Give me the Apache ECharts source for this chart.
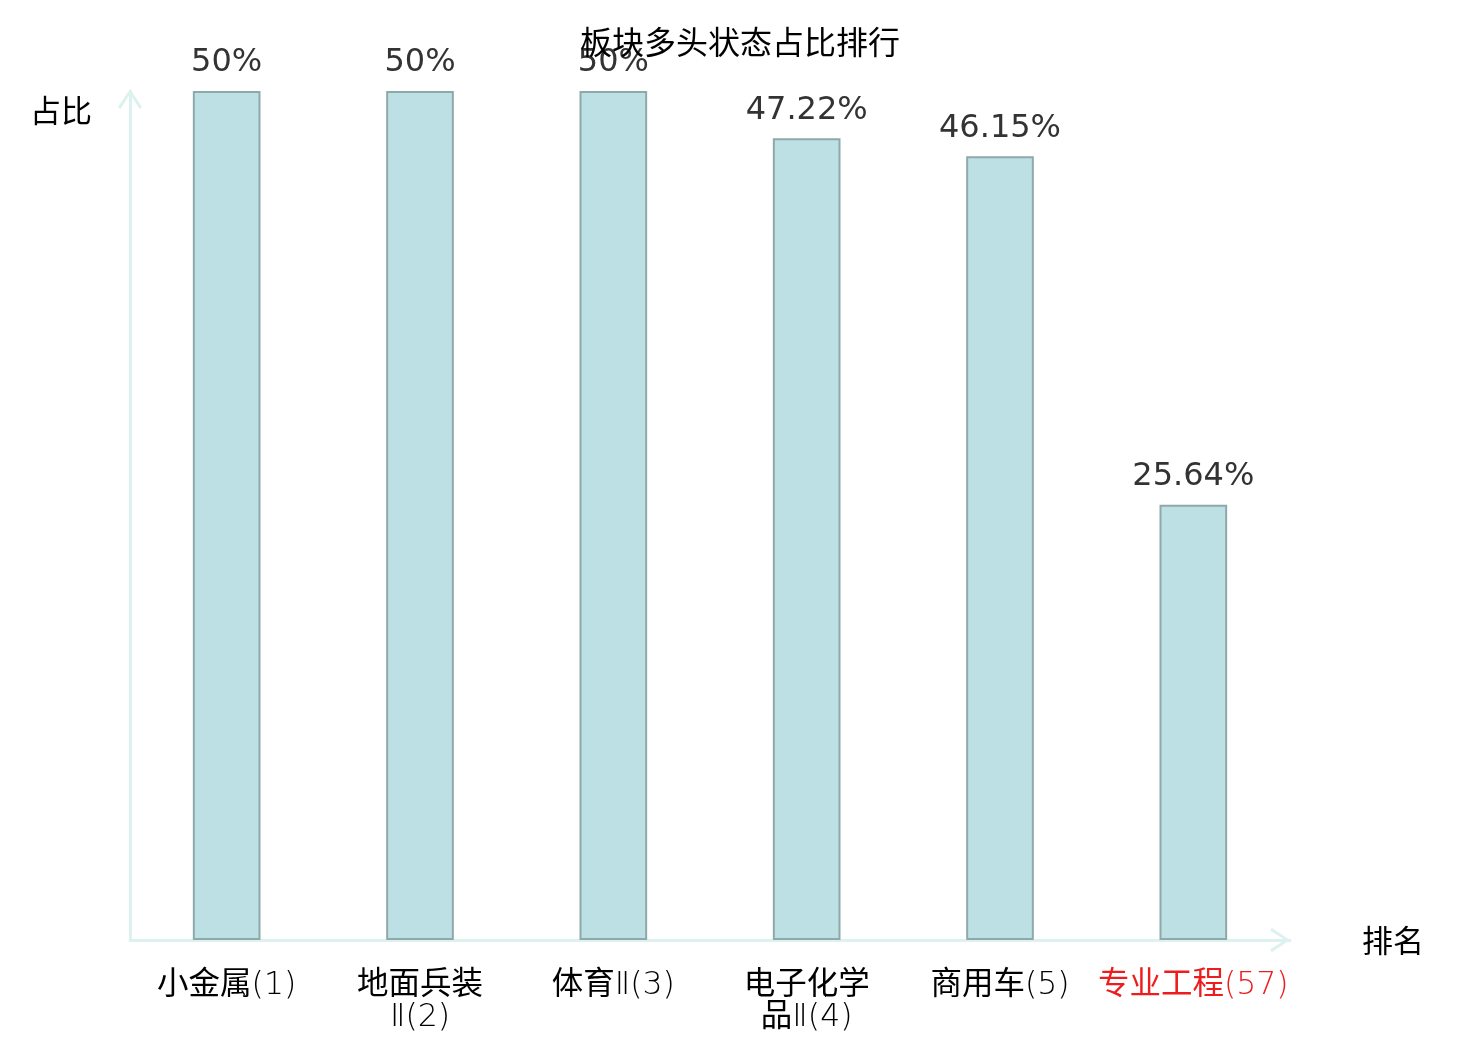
<!DOCTYPE html>
<html>
<head>
<meta charset="utf-8">
<script src="https://cdn.jsdelivr.net/npm/echarts@6/dist/echarts.min.js"></script>
<style>html,body{margin:0;padding:0;background:#fff;}#main{width:1480px;height:1040px;}</style>
</head>
<body>
<div id="main"></div>
<script>
const titleText = '板块多头状态占比排行';
const categories = ['小金属(1)', '地面兵装\nⅡ(2)', '体育Ⅱ(3)', '电子化学\n品Ⅱ(4)', '商用车(5)', '专业工程(57)'];
const values = [50, 50, 50, 47.22, 46.15, 25.64];
const highlightIndex = 5;
const yName = '占比';
const xName = '排名';

const chart = echarts.init(document.getElementById('main'));
const arrowPath = 'path://M12,0L24,18L21.5,20L12,5L2.5,20L0,18Z';
const cjk = '"Noto Sans CJK SC"';
chart.setOption({
  animation: false,
  title: {
    text: titleText,
    left: 'center',
    top: 21,
    textStyle: { fontSize: 32, fontWeight: 'normal', color: '#000', fontFamily: cjk }
  },
  grid: { left: 130, right: 190, top: 91, bottom: 100, containLabel: false },
  xAxis: {
    type: 'category',
    data: categories,
    name: xName,
    nameLocation: 'end',
    nameGap: 72,
    nameTextStyle: { fontSize: 31, color: '#000', fontFamily: cjk },
    axisLine: {
      show: true,
      symbol: ['none', arrowPath],
      symbolSize: [24, 20],
      symbolOffset: [0, -10],
      lineStyle: { color: '#ddf1ee', width: 3 }
    },
    axisTick: { show: false },
    axisLabel: {
      interval: 0,
      margin: 30,
      fontSize: 31.5,
      lineHeight: 32,
      fontFamily: '"DejaVu Sans Light", "Noto Sans CJK SC"',
      color: function (v, i) { return i === highlightIndex ? '#ee1c1c' : '#000'; }
    }
  },
  yAxis: {
    type: 'value',
    min: 0,
    max: 50,
    name: yName,
    nameLocation: 'end',
    nameGap: -19,
    nameTextStyle: { fontSize: 31, color: '#000', fontFamily: cjk, align: 'right', verticalAlign: 'middle', padding: [0, 38, 0, 0] },
    axisLine: {
      show: true,
      symbol: ['none', arrowPath],
      symbolSize: [24, 20],
      symbolOffset: [0, -8],
      lineStyle: { color: '#ddf1ee', width: 3 }
    },
    axisTick: { show: false },
    axisLabel: { show: false },
    splitLine: { show: false }
  },
  series: [{
    type: 'bar',
    data: values,
    barWidth: '35%',
    itemStyle: { color: '#bce0e3', borderColor: '#8ea9aa', borderWidth: 2 },
    label: {
      show: true,
      position: 'top',
      distance: 12,
      fontSize: 32,
      color: '#333',
      fontFamily: 'DejaVu Sans',
      formatter: function (p) { return p.value + '%'; }
    }
  }]
});
</script>
</body>
</html>
